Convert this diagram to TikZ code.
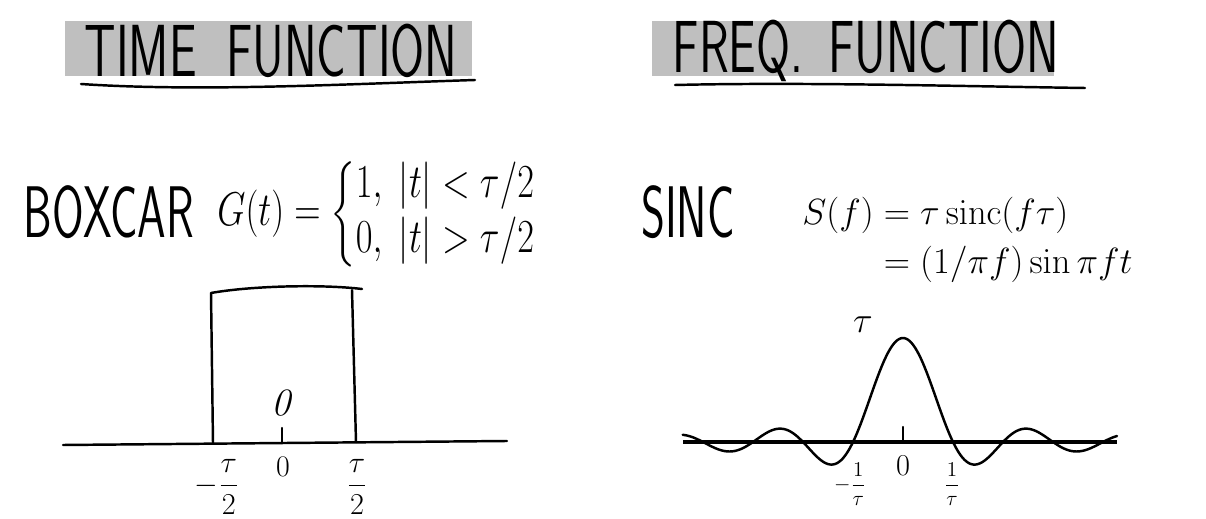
\documentclass[tikz,border=0pt]{standalone}
\usepackage{amsmath}
\usepackage{amssymb}
\usepackage{graphicx}
\tikzset{
  hand/.style={line width=1.4pt, line cap=round, line join=round},
  titlelbl/.style={font=\fontsize{28}{32}\selectfont\sffamily, inner sep=0pt},
  namelbl/.style={font=\fontsize{26}{31}\selectfont\sffamily, inner sep=0pt},
  eqlbl/.style={font=\fontsize{19.2}{24}\selectfont, inner sep=0pt},
  fraclbl/.style={font=\fontsize{16}{19}\selectfont, inner sep=0pt},
  smallfrac/.style={font=\fontsize{13}{15}\selectfont, inner sep=0pt}
}
\newcommand{\tallcaps}[2][1.5]{\scalebox{1}[#1]{#2}}

\begin{document}
\begin{tikzpicture}[x=0.2mm, y=-0.2mm]
        \useasboundingbox (0,0) rectangle (1206,519);
        % headings
        \fill[gray!50] (65,21) rectangle (472,76);
        \fill[gray!50] (652,21) rectangle (1054,76);
        \node[titlelbl] (timetitle) at (271,51) {\tallcaps{TIME\hspace{0.6em}FUNCTION}};
        \node[titlelbl] (freqtitle) at (866,51) {\tallcaps{FREQ.\hspace{0.5em}FUNCTION}};
        \draw[hand] (81,84) .. controls (200,92) and (350,84) .. (475,80);
        \draw[hand] (675,85) .. controls (800,82) and (950,86) .. (1085,88);
        % names and formulas
        \node[namelbl] (boxcar) at (109,212) {\tallcaps[1.6]{BOXCAR}};
        \node[namelbl] (sinc) at (688,212) {\tallcaps[1.6]{SINC}};
        \node[eqlbl, anchor=west] (boxeq) at (217,214)
        {\tallcaps[1.3]{$G(t)=\left\{\begin{array}{@{}l@{}}1,\ |t|<\tau/2\\ 0,\ |t|>\tau/2\end{array}\right.$}};
        \node[eqlbl, font=\fontsize{21}{25}\selectfont, anchor=west] (sinceq) at (802,240)
        {$\begin{aligned}S(f)&=\tau\,\mathrm{sinc}(f\tau)\\ &=(1/\pi f)\sin\pi f t\end{aligned}$};
        % boxcar plot
        \draw[hand] (63,445) -- (507,441);
        \draw[hand] (213,443) -- (211,293) .. controls (250,286) and (320,284) .. (362,289);
        \draw[hand] (352,290) -- (356,442);
        \draw[hand] (282,428) -- (282,443);
        \node[font=\fontsize{22}{26}\selectfont, inner sep=0pt] (topzero) at (282,403) {\textit{0}};
        \node[font=\fontsize{17}{20}\selectfont, inner sep=0pt] (botzero) at (283,467) {0};
        \node[fraclbl] (lefthalf) at (217,487) {$-\dfrac{\tau}{2}$};
        \node[fraclbl] (righthalf) at (357,487) {$\dfrac{\tau}{2}$};
        % sinc plot
        \draw[line width=2pt] (683,442) -- (1117,442);
        \draw[hand] (903,427) -- (903,442);
        \draw[hand] plot[domain=-220.3:214, samples=240, smooth]
        ({903+\x},{442-104*sin(3.6*\x)/(pi*\x/50)});
        \node[font=\fontsize{22}{26}\selectfont, inner sep=0pt] (peak) at (863,325) {$\tau$};
        \node[font=\fontsize{18}{21}\selectfont, inner sep=0pt] (szero) at (903,466) {$0$};
        \node[smallfrac] (negrecip) at (850,484) {$-\dfrac{1}{\tau}$};
        \node[smallfrac] (posrecip) at (952,484) {$\dfrac{1}{\tau}$};
    \end{tikzpicture}
\end{document}
